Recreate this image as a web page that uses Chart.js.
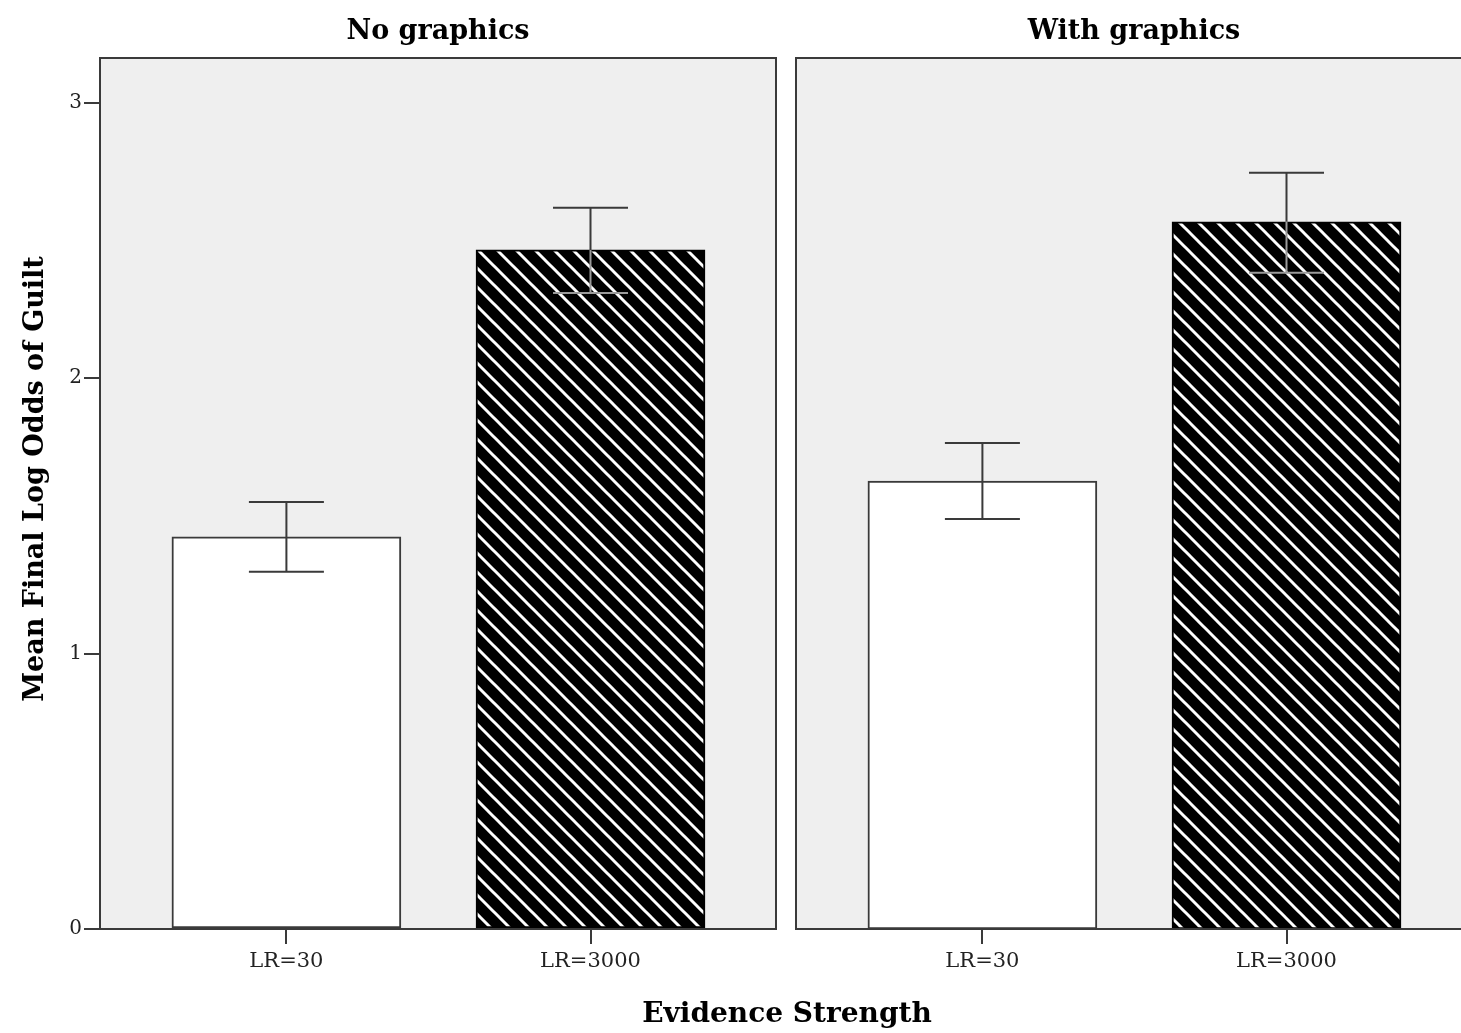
<!DOCTYPE html>
<html>
<head>
<meta charset="utf-8">
<script src="https://cdn.jsdelivr.net/npm/chart.js@4.4.1/dist/chart.umd.min.js"></script>
<style>
  html, body { margin: 0; padding: 0; background: #fff; overflow: hidden; }
  #wrap { position: relative; width: 1461px; height: 1033px; overflow: hidden; }
  canvas { position: absolute; top: 0; }
  #leftChart { left: 0; }
  #rightChart { left: 786px; }
  #xTitle {
    position: absolute; left: 587px; width: 400px; top: 996px;
    text-align: center; font: bold 28px "DejaVu Serif", serif; color: #000;
  }
  #yTitle {
    position: absolute; left: 35px; top: 479px; width: 600px; margin-left: -300px;
    height: 34px; margin-top: -17px; line-height: 34px;
    transform: rotate(-90deg); text-align: center;
    font: bold 27px "DejaVu Serif", serif; color: #000; white-space: nowrap;
  }
</style>
</head>
<body>
<div id="wrap">
  <canvas id="leftChart" width="787" height="1033"></canvas>
  <canvas id="rightChart" width="696" height="1033"></canvas>
  <div id="yTitle">Mean Final Log Odds of Guilt</div>
  <div id="xTitle">Evidence Strength</div>
</div>
<script>
// datos
const categories = ['LR=30', 'LR=3000'];
const panelTitles = ['No graphics', 'With graphics'];
const yTicks = [0, 1, 2, 3];

const noGraphicsMean = [1.424, 2.466];
const noGraphicsLow  = [1.297, 2.310];
const noGraphicsHigh = [1.551, 2.619];

const withGraphicsMean = [1.627, 2.568];
const withGraphicsLow  = [1.489, 2.383];
const withGraphicsHigh = [1.765, 2.746];

const Y_MAX = 3.163;
const BORDER = '#3a3a3a';

// patrón rayado (líneas "\" blancas sobre negro)
function makeHatch() {
    const s = 19;
    const c = document.createElement('canvas');
    c.width = s; c.height = s;
    const g = c.getContext('2d');
    g.fillStyle = '#000';
    g.fillRect(0, 0, s, s);
    g.strokeStyle = '#fff';
    g.lineWidth = 3;
    for (let k = -1; k <= 1; k++) {
        g.beginPath();
        g.moveTo(-s, -s + k * s);
        g.lineTo(2 * s, 2 * s + k * s);
        g.stroke();
    }
    return g.createPattern(c, 'repeat');
}
const hatch = makeHatch();

// fondo gris y marco del panel
const panelBox = {
    id: 'panelBox',
    beforeDatasetsDraw(chart) {
        const { ctx, chartArea: a } = chart;
        ctx.save();
        ctx.fillStyle = '#efefef';
        ctx.fillRect(a.left, a.top, a.right - a.left, a.bottom - a.top);
        ctx.restore();
    },
    afterDatasetsDraw(chart) {
        const { ctx, chartArea: a } = chart;
        ctx.save();
        ctx.strokeStyle = BORDER;
        ctx.lineWidth = 2;
        ctx.strokeRect(a.left, a.top, a.right - a.left, a.bottom - a.top);
        ctx.restore();
    }
};

// barras de error
const errorBars = {
    id: 'errorBars',
    afterDatasetsDraw(chart, args, opts) {
        const { ctx } = chart;
        const y = chart.scales.y;
        const meta = chart.getDatasetMeta(0);
        ctx.save();
        ctx.lineWidth = 2;
        meta.data.forEach((bar, i) => {
            const x = bar.x;
            const yHi = y.getPixelForValue(opts.high[i]);
            const yLo = y.getPixelForValue(opts.low[i]);
            const yTop = bar.y;
            const half = 37.5;
            ctx.strokeStyle = BORDER;
            ctx.beginPath();
            ctx.moveTo(x - half, yHi); ctx.lineTo(x + half, yHi);
            ctx.moveTo(x, yHi); ctx.lineTo(x, i === 1 ? yTop : yLo);
            if (i !== 1) { ctx.moveTo(x - half, yLo); ctx.lineTo(x + half, yLo); }
            ctx.stroke();
            if (i === 1) {
                // dentro de la barra rayada se ve gris
                ctx.strokeStyle = '#9a9a9a';
                ctx.beginPath();
                ctx.moveTo(x, yTop); ctx.lineTo(x, yLo);
                ctx.moveTo(x - half, yLo); ctx.lineTo(x + half, yLo);
                ctx.stroke();
            }
        });
        ctx.restore();
    }
};

function buildChart(canvasId, title, mean, low, high, showY) {
    const ctx = document.getElementById(canvasId).getContext('2d');
    return new Chart(ctx, {
        type: 'bar',
        data: {
            datasets: [{
                data: categories.map((c, i) => ({ x: i, y: mean[i] })),
                backgroundColor: ['#ffffff', hatch],
                borderColor: [BORDER, '#000'],
                borderWidth: 2,
                borderSkipped: false,
                barThickness: 229
            }]
        },
        plugins: [panelBox, errorBars],
        options: {
            responsive: false,
            animation: false,
            devicePixelRatio: 1,
            layout: { padding: showY ? { left: 0, right: 11 } : { left: 10, right: 10 } },
            plugins: {
                legend: { display: false },
                tooltip: { enabled: false },
                title: {
                    display: true,
                    text: title,
                    fullSize: false,
                    color: '#000',
                    font: { family: 'DejaVu Serif', weight: 'bold', size: 27, lineHeight: 1.2 },
                    padding: { top: 16, bottom: 9.6 }
                },
                errorBars: { low: low, high: high }
            },
            scales: {
                x: {
                    type: 'linear',
                    min: -0.613,
                    max: 1.61,
                    offset: false,
                    afterBuildTicks: (s) => { s.ticks = categories.map((c, i) => ({ value: i })); },
                    afterFit: (s) => { s.height = 104; },
                    ticks: {
                        color: '#222',
                        padding: 5,
                        maxRotation: 0,
                        font: { family: 'DejaVu Serif', size: 21 },
                        callback: (v) => categories[v]
                    },
                    grid: { offset: false, drawOnChartArea: false, drawTicks: true, tickLength: 15, color: BORDER, lineWidth: 2 },
                    border: { display: false }
                },
                y: {
                    display: showY,
                    min: 0,
                    max: Y_MAX,
                    afterBuildTicks: (s) => { s.ticks = yTicks.map(v => ({ value: v })); },
                    afterFit: (s) => { if (showY) s.width = 100; },
                    ticks: {
                        color: '#222',
                        padding: 2,
                        font: { family: 'DejaVu Serif', size: 20 }
                    },
                    grid: { drawOnChartArea: false, drawTicks: true, tickLength: 16, color: BORDER, lineWidth: 2 },
                    border: { display: false }
                }
            }
        }
    });
}

buildChart('leftChart', panelTitles[0], noGraphicsMean, noGraphicsLow, noGraphicsHigh, true);
buildChart('rightChart', panelTitles[1], withGraphicsMean, withGraphicsLow, withGraphicsHigh, false);
</script>
</body>
</html>
